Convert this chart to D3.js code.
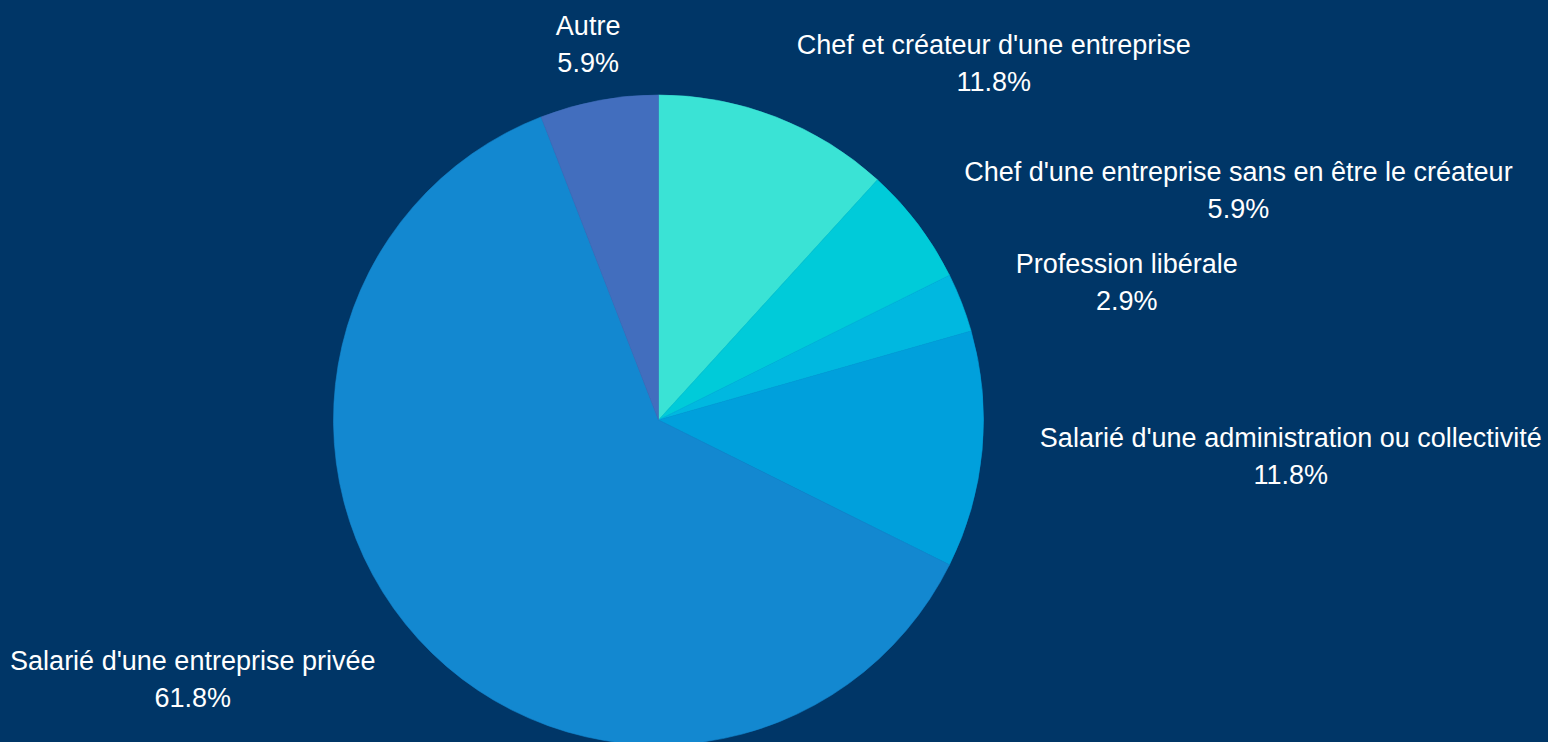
<!DOCTYPE html>
<html>
<head>
<meta charset="utf-8">
<script src="https://cdn.jsdelivr.net/npm/d3@7"></script>
<style>
  html, body { margin: 0; padding: 0; background: #003667; overflow: hidden; }
  svg { display: block; }
</style>
</head>
<body>
<div id="chart"></div>
<script>
// categories, clockwise from 12 o'clock
var categories = [
    "Chef et créateur d'une entreprise",
    "Chef d'une entreprise sans en être le créateur",
    "Profession libérale",
    "Salarié d'une administration ou collectivité",
    "Salarié d'une entreprise privée",
    "Autre"
];
// respondent counts (34 total)
var counts = [4, 2, 1, 4, 21, 2];
var sliceColors = ["#3ae3d5", "#00cbd9", "#00b8e0", "#00a0dc", "#1388d0", "#426ebe"];

var width = 1548;
var height = 742;
var cx = 658.5, cy = 420;
var radius = 325;
var labelRadius = 383;
var labelFont = "27px 'Liberation Sans', Arial, sans-serif";

var svg = d3.select("#chart").append("svg")
    .attr("width", width)
    .attr("height", height);

svg.append("rect")
    .attr("width", width)
    .attr("height", height)
    .attr("fill", "#003667");

var data = categories.map(function(c, i) { return { name: c, value: counts[i] }; });
var total = d3.sum(counts);
var fmt = d3.format(".1%");

var pie = d3.pie()
    .sort(null)
    .value(d => d.value);

var arc = d3.arc().innerRadius(0).outerRadius(radius);

var color = d3.scaleOrdinal()
    .domain(categories)
    .range(sliceColors);

var arcs = pie(data);

var g = svg.append("g")
    .attr("transform", `translate(${cx},${cy})`);

// stroke in the slice colour hides the hairline seams between slices
g.selectAll("path")
    .data(arcs)
    .enter().append("path")
    .attr("fill", d => color(d.data.name))
    .attr("stroke", d => color(d.data.name))
    .attr("stroke-width", 0.6)
    .attr("stroke-linejoin", "round")
    .attr("d", arc);

// labels: two centred lines, block placed beside the slice's mid angle
var labels = g.selectAll("g.label")
    .data(arcs)
    .enter().append("g")
    .attr("class", "label");

labels.each(function(d) {
    var mid = (d.startAngle + d.endAngle) / 2;
    var ax = labelRadius * Math.sin(mid);
    var ay = -labelRadius * Math.cos(mid);
    var sel = d3.select(this);

    var t1 = sel.append("text")
        .attr("y", ay - 8.5)
        .attr("text-anchor", "middle")
        .attr("fill", "#ffffff")
        .style("font", labelFont)
        .text(d.data.name);
    var t2 = sel.append("text")
        .attr("y", ay + 28.5)
        .attr("text-anchor", "middle")
        .attr("fill", "#ffffff")
        .style("font", labelFont)
        .text(fmt(d.data.value / total));

    var w = Math.max(t1.node().getComputedTextLength(), t2.node().getComputedTextLength());
    var s = Math.sin(mid);
    var x = ax;
    if (Math.abs(s) >= 0.25) x = s > 0 ? ax + w / 2 : ax - w / 2;
    t1.attr("x", x);
    t2.attr("x", x);
});
</script>
</body>
</html>
